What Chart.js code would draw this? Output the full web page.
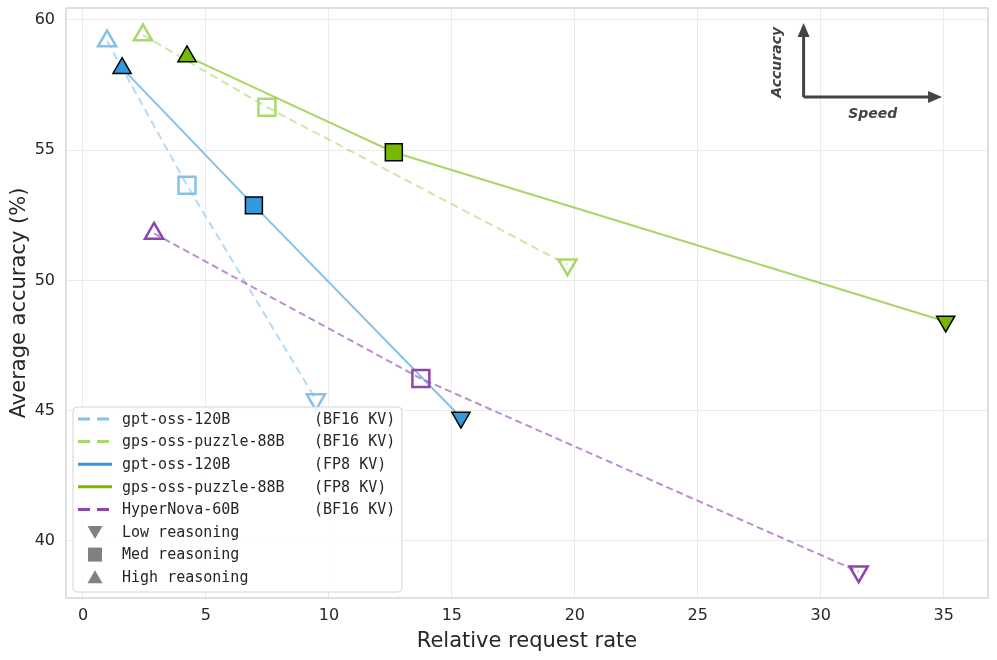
<!DOCTYPE html>
<html><head><meta charset="utf-8">
<script src="https://cdn.jsdelivr.net/npm/chart.js@4/dist/chart.umd.min.js"></script>
<style>html,body{margin:0;padding:0;background:#fff}</style>
</head><body>
<canvas id="c" width="997" height="660"></canvas>
<script>
// ---- data ----
const reasoningLevels = ['High', 'Med', 'Low'];
const seriesNames = ['gpt-oss-120B', 'gps-oss-puzzle-88B', 'gpt-oss-120B', 'gps-oss-puzzle-88B', 'HyperNova-60B'];
const seriesKv = ['(BF16 KV)', '(BF16 KV)', '(FP8 KV)', '(FP8 KV)', '(BF16 KV)'];
const gpt120bBf16X = [0.98, 4.23, 9.47];
const gpt120bBf16Y = [59.19, 53.65, 45.42];
const puzzle88bBf16X = [2.44, 7.48, 19.70];
const puzzle88bBf16Y = [59.42, 56.65, 50.60];
const gpt120bFp8X = [1.59, 6.95, 15.37];
const gpt120bFp8Y = [58.15, 52.88, 44.73];
const puzzle88bFp8X = [4.23, 12.64, 35.08];
const puzzle88bFp8Y = [58.60, 54.92, 48.42];
const hyperNova60bX = [2.89, 13.74, 31.54];
const hyperNova60bY = [51.80, 46.23, 38.81];
const xTickValues = [0, 5, 10, 15, 20, 25, 30, 35];
const yTickValues = [40, 45, 50, 55, 60];
const legendMarkerLabels = ['Low reasoning', 'Med reasoning', 'High reasoning'];

// ---- styles ----
const styles = [
  {color:'#85c1e9', line:'rgba(133,193,233,0.6)', dash:[8,5], hollow:true},
  {color:'#a8d86e', line:'rgba(168,216,110,0.6)', dash:[8,5], hollow:true},
  {color:'#3498db', line:'rgba(52,152,219,0.6)', dash:[], hollow:false},
  {color:'#76b900', line:'rgba(118,185,0,0.6)', dash:[], hollow:false},
  {color:'#8e44ad', line:'rgba(142,68,173,0.6)', dash:[7,4], hollow:true},
];
const xs = [gpt120bBf16X, puzzle88bBf16X, gpt120bFp8X, puzzle88bFp8X, hyperNova60bX];
const ys = [gpt120bBf16Y, puzzle88bBf16Y, gpt120bFp8Y, puzzle88bFp8Y, hyperNova60bY];
const shapeOf = {High:'triangle', Med:'rect', Low:'triangle'};
const rotOf = {High:0, Med:0, Low:180};
const radOf = {High:10.5, Med:12, Low:10.5};

const datasets = xs.map((xArr, i) => {
  const s = styles[i];
  return {
    label: seriesNames[i] + ' ' + seriesKv[i],
    data: xArr.map((x, j) => ({x, y: ys[i][j]})),
    showLine: true,
    borderColor: s.line,
    borderWidth: 2,
    borderDash: s.dash,
    pointStyle: reasoningLevels.map(l => shapeOf[l]),
    pointRotation: reasoningLevels.map(l => rotOf[l]),
    pointRadius: reasoningLevels.map(l => radOf[l]),
    pointHoverRadius: reasoningLevels.map(l => radOf[l]),
    pointBackgroundColor: s.hollow ? 'rgba(0,0,0,0)' : s.color,
    pointBorderColor: s.hollow ? s.color : '#000',
    pointBorderWidth: s.hollow ? 2.5 : 1.5,
    order: 5 - i
  };
});

const FONT = "'DejaVu Sans', sans-serif";
Chart.defaults.font.family = FONT;
Chart.defaults.color = '#262626';

const overlay = {
  id: 'overlay',
  afterDraw(chart) {
    const ctx = chart.ctx, a = chart.chartArea;
    ctx.save();
    // frame
    ctx.strokeStyle = '#cccccc'; ctx.lineWidth = 1.2;
    ctx.strokeRect(a.left, a.top, a.right - a.left, a.bottom - a.top);
    // legend box
    const W = a.right - a.left, H = a.bottom - a.top;
    const bx = a.left + 7, bw = 329, bh = 185, by = a.bottom - 6 - bh;
    ctx.beginPath();
    ctx.roundRect(bx, by, bw, bh, 4);
    ctx.fillStyle = 'rgba(255,255,255,0.85)'; ctx.fill();
    ctx.strokeStyle = '#d4d4d4'; ctx.lineWidth = 1; ctx.stroke();
    ctx.font = "15px 'DejaVu Sans Mono', monospace";
    ctx.textBaseline = 'middle'; ctx.textAlign = 'left';
    const rowY = k => by + 12 + k * 22.6;
    const hx0 = bx + 5, hx1 = bx + 39, tx = bx + 49, tx2 = bx + 241;
    for (let i = 0; i < seriesNames.length; i++) {
      const y = rowY(i);
      ctx.beginPath();
      ctx.strokeStyle = styles[i].color; ctx.lineWidth = 3;
      ctx.setLineDash(styles[i].hollow ? [12, 7] : []);
      ctx.moveTo(hx0, y); ctx.lineTo(hx1, y); ctx.stroke();
      ctx.setLineDash([]);
      ctx.fillStyle = '#262626';
      ctx.fillText(seriesNames[i], tx, y + 1);
      ctx.fillText(seriesKv[i], tx2, y + 1);
    }
    const mx = (hx0 + hx1) / 2;
    legendMarkerLabels.forEach((lab, k) => {
      const y = rowY(seriesNames.length + k);
      ctx.fillStyle = '#808080';
      ctx.beginPath();
      if (k === 0) { ctx.moveTo(mx - 7.5, y - 6); ctx.lineTo(mx + 7.5, y - 6); ctx.lineTo(mx, y + 7); }
      else if (k === 1) { ctx.rect(mx - 7, y - 7, 14, 14); }
      else { ctx.moveTo(mx - 7.5, y + 6); ctx.lineTo(mx + 7.5, y + 6); ctx.lineTo(mx, y - 7); }
      ctx.closePath(); ctx.fill();
      ctx.fillStyle = '#262626';
      ctx.fillText(lab, tx, y + 1);
    });
    // direction inset
    const ox = a.left + 0.800 * W, oy = a.top + 0.151 * H;
    const topY = a.top + 0.029 * H, rightX = a.left + 0.948 * W;
    ctx.strokeStyle = '#444'; ctx.fillStyle = '#444'; ctx.lineWidth = 3;
    ctx.beginPath(); ctx.moveTo(ox, oy); ctx.lineTo(ox, topY + 10); ctx.stroke();
    ctx.beginPath(); ctx.moveTo(ox, oy); ctx.lineTo(rightX - 10, oy); ctx.stroke();
    ctx.beginPath(); ctx.moveTo(ox, topY - 2); ctx.lineTo(ox - 6, topY + 12); ctx.lineTo(ox + 6, topY + 12); ctx.closePath(); ctx.fill();
    ctx.beginPath(); ctx.moveTo(rightX + 2, oy); ctx.lineTo(rightX - 12, oy - 6); ctx.lineTo(rightX - 12, oy + 6); ctx.closePath(); ctx.fill();
    ctx.font = "bold italic 14px 'DejaVu Sans', sans-serif";
    ctx.textAlign = 'center'; ctx.textBaseline = 'middle';
    ctx.fillText('Speed', a.left + 0.875 * W, a.top + 0.181 * H);
    ctx.save();
    ctx.translate(a.left + 0.772 * W, a.top + 0.092 * H);
    ctx.rotate(-Math.PI / 2);
    ctx.fillText('Accuracy', 0, 0);
    ctx.restore();
    ctx.restore();
  }
};

new Chart(document.getElementById('c'), {
  type: 'scatter',
  data: { datasets },
  plugins: [overlay],
  options: {
    responsive: false,
    animation: false,
    devicePixelRatio: 1,
    layout: { autoPadding: false, padding: { top: 8, right: 9, left: 0, bottom: 0 } },
    plugins: { legend: { display: false }, tooltip: { enabled: false } },
    scales: {
      x: {
        type: 'linear', min: -0.69, max: 36.8,
        afterBuildTicks: s => { s.ticks = xTickValues.map(v => ({value: v})); },
        afterFit: s => { s.height = 62; s.paddingLeft = 0; s.paddingRight = 0; },
        ticks: { includeBounds: false, padding: 8, font: { size: 16 }, color: '#262626' },
        grid: { color: '#ebebeb', drawTicks: false, lineWidth: 1 },
        border: { display: false },
        title: { display: true, text: 'Relative request rate', font: { size: 21 }, color: '#262626', padding: { top: 0, bottom: 6 } }
      },
      y: {
        type: 'linear', min: 37.8, max: 60.46,
        afterBuildTicks: s => { s.ticks = yTickValues.map(v => ({value: v})); },
        afterFit: s => { s.width = 66; s.paddingTop = 0; s.paddingBottom = 0; },
        ticks: { includeBounds: false, padding: 11, font: { size: 16 }, color: '#262626' },
        grid: { color: '#ebebeb', drawTicks: false, lineWidth: 1 },
        border: { display: false },
        title: { display: true, text: 'Average accuracy (%)', font: { size: 21 }, color: '#262626', padding: { top: 7, bottom: 0 } }
      }
    }
  }
});
</script>
</body></html>
